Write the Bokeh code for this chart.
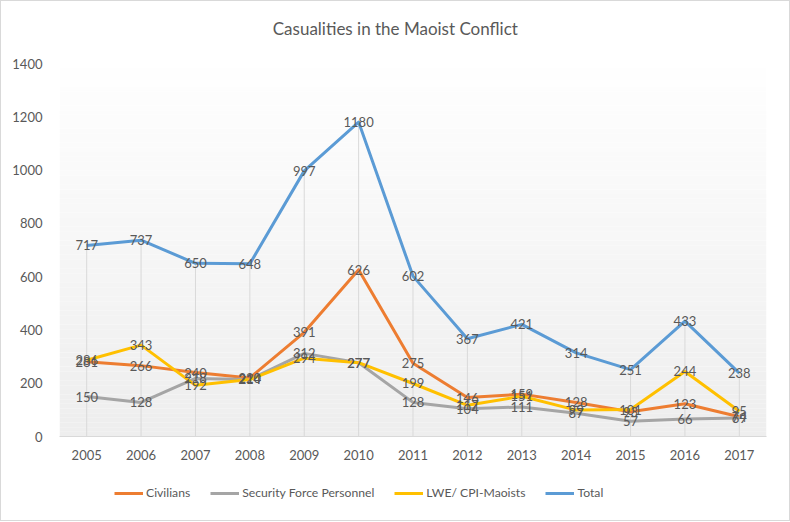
import numpy as np
from bokeh.plotting import figure
from bokeh.layouts import column
from bokeh.models import Legend, LegendItem, FixedTicker, Range1d
from bokeh.core.properties import value
from bokeh.embed import file_html
from bokeh.resources import INLINE

title_text = "Casualities in the Maoist Conflict"
years = [str(y) for y in range(2005, 2018)]
civilians = [281, 266, 240, 220, 391, 626, 275, 146, 159, 128, 93, 123, 74]
security = [150, 128, 218, 214, 312, 277, 128, 104, 111, 87, 57, 66, 69]
maoists = [286, 343, 192, 214, 294, 277, 199, 117, 151, 99, 101, 244, 95]
total = [717, 737, 650, 648, 997, 1180, 602, 367, 421, 314, 251, 433, 238]
series_names = ["Civilians", "Security Force Personnel", "LWE/ CPI-Maoists", "Total"]
y_ticks = [0, 200, 400, 600, 800, 1000, 1200, 1400]

colors = ["#ED7D31", "#A5A5A5", "#FFC000", "#5B9BD5"]
FONT = "Lato"
TXT = "#595959"

xs = list(range(len(years)))


def blank(h):
    f = figure(width=788, height=h, output_backend="svg", toolbar_location=None,
               x_range=Range1d(0, 1), y_range=Range1d(0, 1),
               min_border_left=0, min_border_right=0, min_border_top=0, min_border_bottom=0)
    f.axis.visible = False
    f.grid.visible = False
    f.outline_line_color = None
    f.border_fill_color = "white"
    f.background_fill_color = "white"
    return f


# header strip with the title
hd = blank(50)
hd.text(x=[0.475], y=[0.46], text=[title_text], text_align="center", text_baseline="middle",
        text_font=value(FONT), text_font_size="17px", text_color=TXT)

p = figure(width=788, height=426, output_backend="svg", toolbar_location=None,
           x_range=Range1d(-0.5, len(years) - 0.5), y_range=Range1d(0, 1400),
           min_border_left=58, min_border_right=23, min_border_top=12, min_border_bottom=41)
p.outline_line_color = None
p.grid.visible = False
p.background_fill_color = "white"
p.border_fill_color = "white"

# gradient background of the plot area (decoration)
n = 80
edges = np.linspace(0, 1400, n + 1)
shade = np.linspace(238, 255, n)
bg_cols = ["#%02x%02x%02x" % (int(s), int(s), int(s)) for s in shade]
p.quad(left=-0.5, right=len(years) - 0.5, bottom=edges[:-1], top=edges[1:],
       fill_color=bg_cols, line_color=None)

# drop lines
p.segment(x0=xs, x1=xs, y0=[0] * len(xs), y1=total, line_color="#d9d9d9", line_width=1)

for vals, c in zip([civilians, security, maoists, total], colors):
    p.line(xs, vals, line_color=c, line_width=3, line_join="round")

for vals in [civilians, security, maoists, total]:
    p.text(xs, vals, text=[str(v) for v in vals], text_align="center", text_baseline="middle",
           text_font=value(FONT), text_font_size="13px", text_color=TXT)

p.xaxis.ticker = FixedTicker(ticks=xs)
p.xaxis.major_label_overrides = {i: y for i, y in enumerate(years)}
p.xaxis.axis_line_color = "#d9d9d9"
p.xaxis.major_tick_line_color = None
p.xaxis.minor_tick_line_color = None
p.xaxis.major_label_text_font = FONT
p.xaxis.major_label_text_font_size = "13px"
p.xaxis.major_label_text_color = TXT
p.xaxis.major_label_standoff = 7

p.yaxis.ticker = FixedTicker(ticks=y_ticks)
p.yaxis.axis_line_color = None
p.yaxis.major_tick_line_color = None
p.yaxis.minor_tick_line_color = None
p.yaxis.major_label_text_font = FONT
p.yaxis.major_label_text_font_size = "13px"
p.yaxis.major_label_text_color = TXT
p.yaxis.major_label_standoff = 11

# legend strip below the chart
lg = blank(43)
# legend swatches: lines placed outside the visible range
dummies = [lg.line([5, 6], [5, 5], line_color=c, line_width=3) for c in colors]
legend = Legend(items=[LegendItem(label=nm, renderers=[r]) for nm, r in zip(series_names, dummies)],
                orientation="horizontal", location=(55, 20),
                label_text_font=FONT, label_text_font_size="12.2px", label_text_color=TXT,
                glyph_width=29, glyph_height=14, spacing=20, border_line_color=None,
                background_fill_alpha=0, margin=0, padding=6, label_standoff=3)
lg.add_layout(legend)

layout = column(hd, p, lg, spacing=0, styles={"border": "1px solid #d9d9d9"})
open("out.html", "w").write(file_html(layout, INLINE))
